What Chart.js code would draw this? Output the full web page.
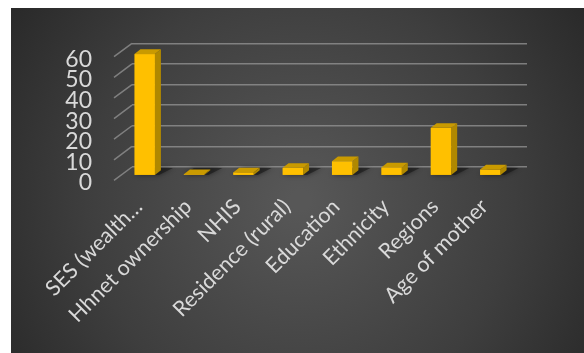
<!DOCTYPE html>
<html>
<head>
<meta charset="utf-8">
<script src="https://cdn.jsdelivr.net/npm/chart.js@4"></script>
<style>
html,body{margin:0;padding:0;background:#fff;}
#wrap{width:584px;height:353px;position:relative;}
</style>
</head>
<body>
<div id="wrap"><canvas id="c" width="584" height="353"></canvas></div>
<script>
const categories = ["SES (wealth…", "Hhnet ownership", "NHIS", "Residence (rural)", "Education", "Ethnicity", "Regions", "Age of mother"];
const values = [59, 0.7, 1.6, 3.8, 7, 4, 23.2, 3];
const yTicks = [0, 10, 20, 30, 40, 50, 60];

const TXT = '#d9d9d9';
const GRID = 'rgba(150,150,150,0.75)';
const FRONT_DX = -12, FRONT_DY = 8.7;
const DEPTH_X = 6, DEPTH_Y = 4.7;

const bgPlugin = {
  id: 'bg',
  beforeDraw(chart) {
    const ctx = chart.ctx;
    ctx.save();
    const g = ctx.createRadialGradient(300, 200, 10, 300, 200, 380);
    g.addColorStop(0, '#575757');
    g.addColorStop(0.55, '#3e3e3e');
    g.addColorStop(1, '#242424');
    ctx.fillStyle = g;
    ctx.fillRect(11, 8, 584 - 11, 353 - 8);
    ctx.restore();
  }
};

const wallPlugin = {
  id: 'wall',
  beforeDatasetsDraw(chart) {
    const ctx = chart.ctx;
    const ys = chart.scales.y;
    const left = chart.chartArea.left;
    ctx.save();
    ctx.strokeStyle = GRID;
    ctx.lineWidth = 1.5;
    ys.ticks.forEach(t => {
      const y = ys.getPixelForValue(t.value);
      ctx.beginPath();
      ctx.moveTo(left, y);
      ctx.lineTo(left - 18, y + 13.4);
      ctx.stroke();
    });
    ctx.restore();
  }
};

const bar3dPlugin = {
  id: 'bar3d',
  beforeDatasetsDraw(chart) {
    const ctx = chart.ctx;
    const meta = chart.getDatasetMeta(0);
    ctx.save();
    meta.data.forEach(el => {
      const w = el.width;
      const l = el.x - w / 2 + FRONT_DX;
      const b = el.base + FRONT_DY;
      ctx.save();
      ctx.shadowColor = 'rgba(0,0,0,0.85)';
      ctx.shadowBlur = 5;
      ctx.fillStyle = 'rgba(20,20,20,0.55)';
      ctx.beginPath();
      ctx.moveTo(l, b);
      ctx.lineTo(l + w + 4, b);
      ctx.lineTo(l + w + 18, b - 7);
      ctx.lineTo(l + 10, b - 7);
      ctx.closePath();
      ctx.fill();
      ctx.restore();
    });
    meta.data.forEach(el => {
      const w = el.width;
      const l = el.x - w / 2 + FRONT_DX;
      const r = l + w;
      const t = el.y + FRONT_DY;
      const b = el.base + FRONT_DY;
      ctx.fillStyle = '#b08800';
      ctx.beginPath();
      ctx.moveTo(r, t); ctx.lineTo(r + DEPTH_X, t - DEPTH_Y);
      ctx.lineTo(r + DEPTH_X, b - DEPTH_Y); ctx.lineTo(r, b);
      ctx.closePath(); ctx.fill();
      ctx.fillStyle = '#c99a00';
      ctx.beginPath();
      ctx.moveTo(l, t); ctx.lineTo(l + DEPTH_X, t - DEPTH_Y);
      ctx.lineTo(r + DEPTH_X, t - DEPTH_Y); ctx.lineTo(r, t);
      ctx.closePath(); ctx.fill();
      ctx.fillStyle = '#ffc000';
      ctx.fillRect(l, t, w, b - t);
    });
    ctx.restore();
    return false;
  }
};

function draw() {
  new Chart(document.getElementById('c'), {
    type: 'bar',
    data: {
      labels: categories,
      datasets: [{ data: values, backgroundColor: '#ffc000', categoryPercentage: 1, barPercentage: 0.415 }]
    },
    options: {
      responsive: false,
      animation: false,
      events: [],
      layout: { padding: { left: 0, right: 57, top: 43.3, bottom: 0 } },
      plugins: { legend: { display: false }, tooltip: { enabled: false } },
      scales: {
        x: {
          grid: { display: false, drawTicks: false },
          border: { display: false },
          ticks: {
            color: TXT, font: { family: 'Lato', size: 21.5 },
            minRotation: 45, maxRotation: 45, autoSkip: false, padding: 27, labelOffset: -18
          },
          afterFit(s) { s.height = 186; s.paddingLeft = 0; s.paddingRight = 0; }
        },
        y: {
          min: 0, max: 60,
          afterBuildTicks(s) { s.ticks = yTicks.map(v => ({ value: v })); },
          grid: { color: GRID, lineWidth: 1.5, drawTicks: false },
          border: { display: false },
          ticks: { color: TXT, font: { family: 'Lato', size: 23 }, padding: 40, labelOffset: 16, autoSkip: false },
          afterFit(s) { s.width = 132; s.paddingTop = 0; s.paddingBottom = 0; }
        }
      }
    },
    plugins: [bgPlugin, wallPlugin, bar3dPlugin]
  });
}

Promise.all([
  document.fonts.load('21.5px Lato'),
  document.fonts.load('23px Lato')
]).then(draw, draw);
</script>
</body>
</html>
